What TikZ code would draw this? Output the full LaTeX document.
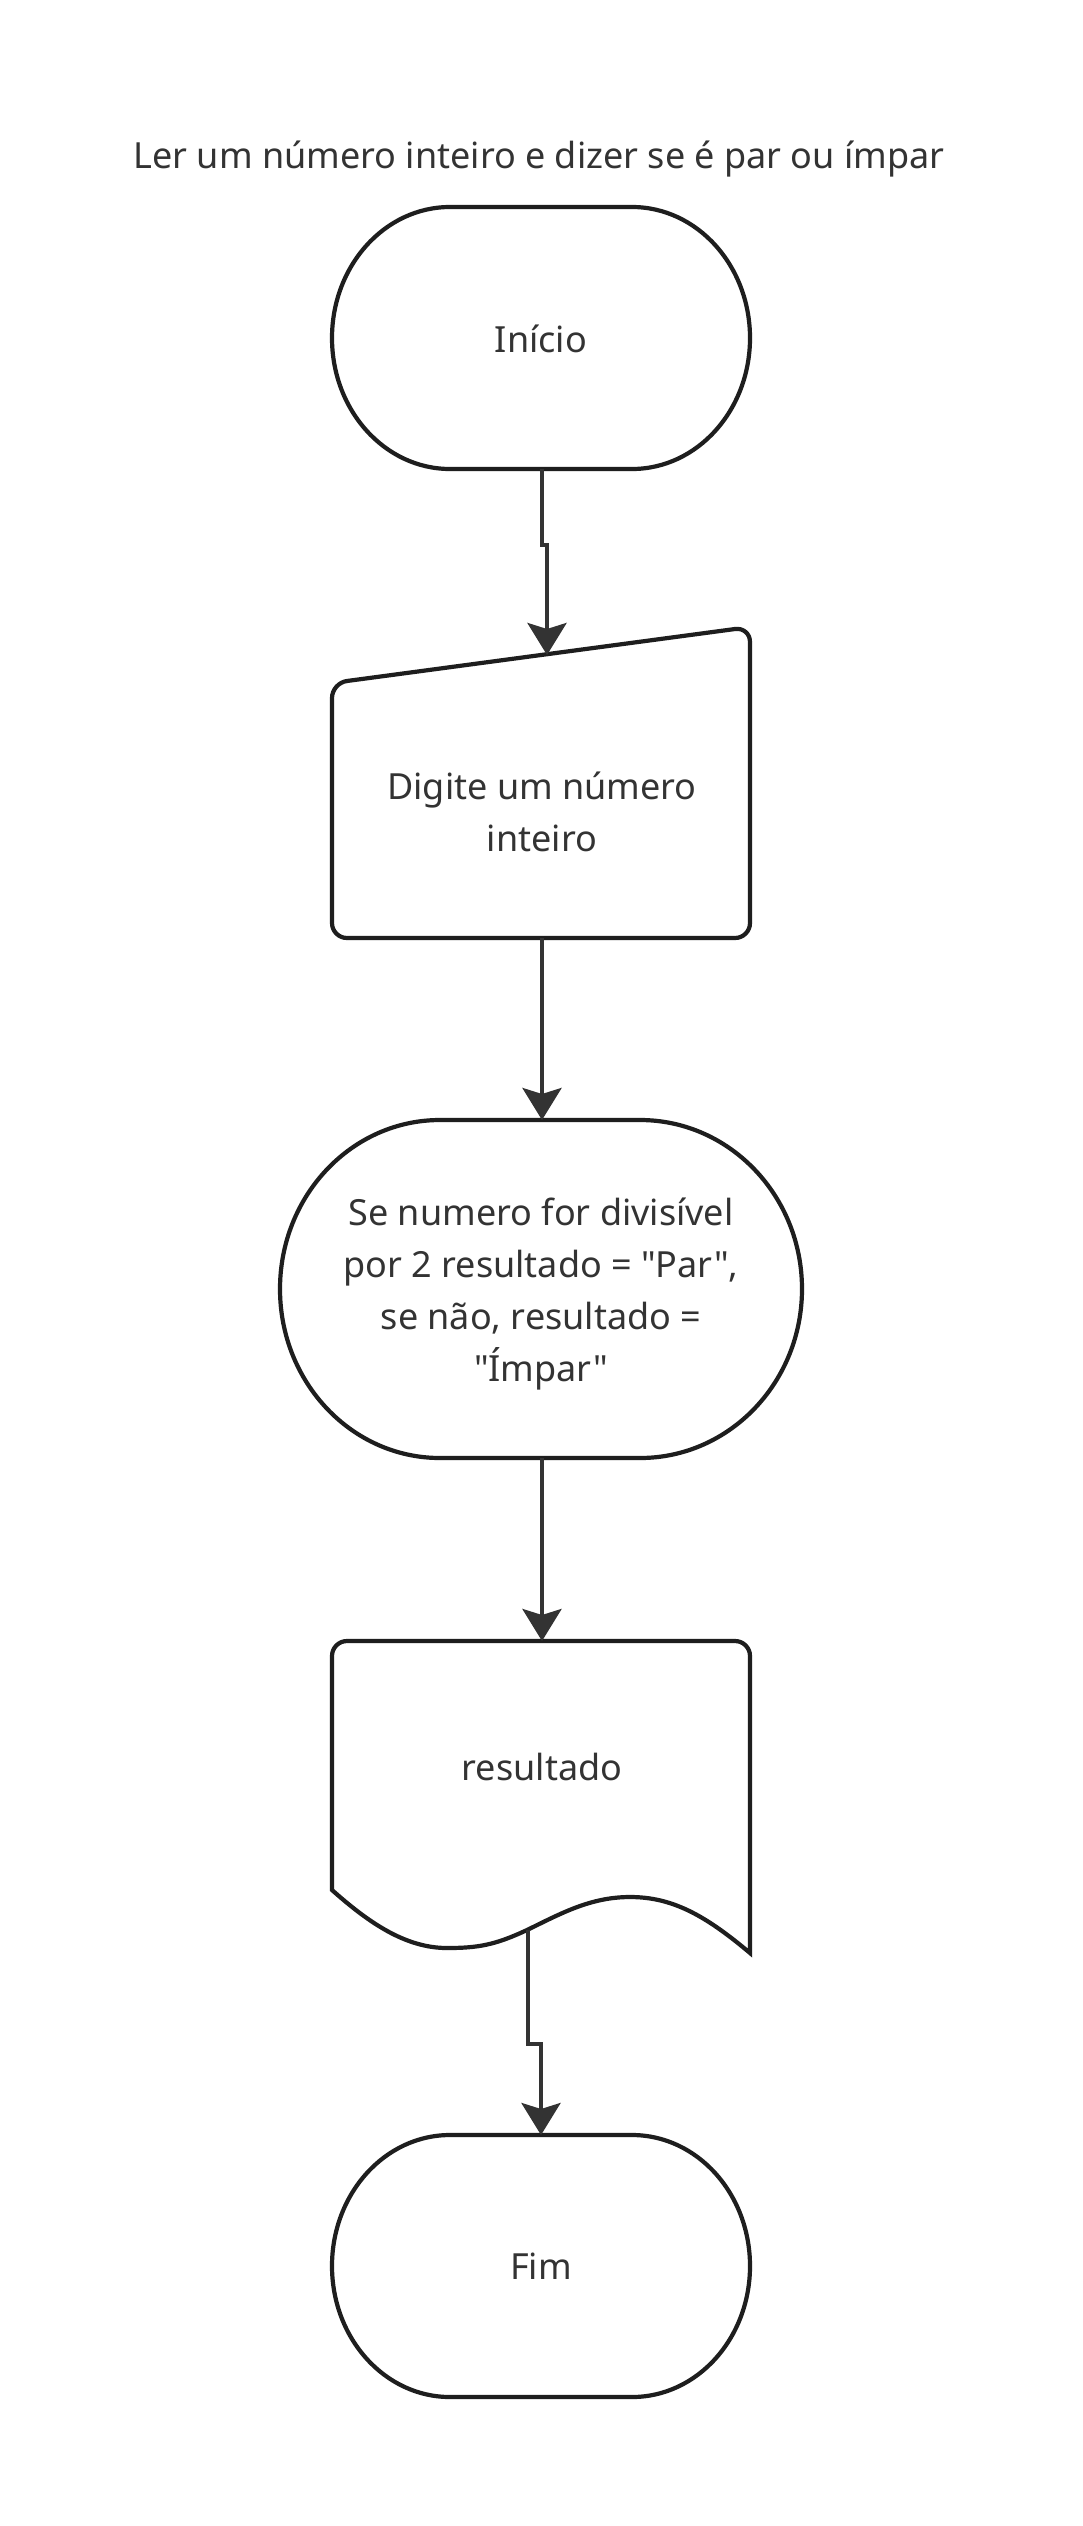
\documentclass[tikz,border=0pt]{standalone}
\usepackage{fontspec}
\setmainfont[Ligatures=TeXOff]{Noto Sans}
\usetikzlibrary{arrows.meta}
\definecolor{contorno}{HTML}{1E1E1E}
\definecolor{seta}{HTML}{333333}
\definecolor{letra}{HTML}{333333}
\tikzset{
  forma/.style={draw=contorno, line width=4.2pt},
  ligacao/.style={draw=seta, line width=4.2pt, -{Stealth[length=32pt,width=39pt,inset=6pt]}},
  rotulo/.style={text=letra, font=\fontsize{36}{52}\selectfont, align=center, inner sep=0pt},
}

\begin{document}
\begin{tikzpicture}[x=1pt, y=1pt]
  \useasboundingbox (0,0) rectangle (1083,-2526);
  \fill[white] (0,0) rectangle (1083,-2526);

  % titulo
  \node[rotulo, anchor=base] (titulo) at (539,-169) {Ler um número inteiro e dizer se é par ou ímpar};

  % inicio
  \draw[forma] (450,-207) -- (632,-207) arc[start angle=90, end angle=-90, x radius=118, y radius=131]
    -- (450,-469) arc[start angle=270, end angle=90, x radius=118, y radius=131] -- cycle;
  \node[rotulo, anchor=base] (inicio) at (541,-352) {Início};
  \coordinate (inicio-s) at (542,-469);

  % entrada manual
  \draw[forma, rounded corners=15pt] (332,-938) -- (332,-683) -- (750,-627) -- (750,-938) -- cycle;
  \node[rotulo] (entrada) at (542,-812) {Digite um número\\inteiro};
  \coordinate (entrada-n) at (547,-655);
  \coordinate (entrada-s) at (542,-938);

  % decisao
  \draw[forma] (440,-1120) -- (640,-1120) arc[start angle=90, end angle=-90, x radius=162, y radius=169]
    -- (440,-1458) arc[start angle=270, end angle=90, x radius=160, y radius=169] -- cycle;
  \node[rotulo] (decisao) at (541,-1294) {Se numero for divisível\\por 2 resultado = "Par",\\se não, resultado =\\"Ímpar"};
  \coordinate (decisao-n) at (542,-1120);
  \coordinate (decisao-s) at (542,-1458);

  % saida (documento)
  \draw[forma] (332,-1890) -- (332,-1656) arc[start angle=180, end angle=90, radius=15]
    -- (735,-1641) arc[start angle=90, end angle=0, radius=15] -- (750,-1953)
    .. controls (705,-1915) and (672,-1897) .. (630,-1897)
    .. controls (590,-1897) and (560,-1914) .. (527,-1930)
    .. controls (495,-1945) and (478,-1948) .. (447,-1948)
    .. controls (405,-1948) and (368,-1922) .. (332,-1890) -- cycle;
  \node[rotulo, anchor=base] (saida) at (542,-1780) {resultado};
  \coordinate (saida-n) at (542,-1641);
  \coordinate (saida-s) at (528,-1930);

  % fim
  \draw[forma] (450,-2135) -- (632,-2135) arc[start angle=90, end angle=-90, x radius=118, y radius=131]
    -- (450,-2397) arc[start angle=270, end angle=90, x radius=118, y radius=131] -- cycle;
  \node[rotulo, anchor=base] (fim) at (541,-2279) {Fim};
  \coordinate (fim-n) at (541,-2135);

  % ligacoes
  \draw[ligacao] (inicio-s) -- ++(0,-76) -| (entrada-n);
  \draw[ligacao] (entrada-s) -- (decisao-n);
  \draw[ligacao] (decisao-s) -- (saida-n);
  \draw[ligacao] (saida-s) -- ++(0,-114) -| (fim-n);
\end{tikzpicture}
\end{document}
